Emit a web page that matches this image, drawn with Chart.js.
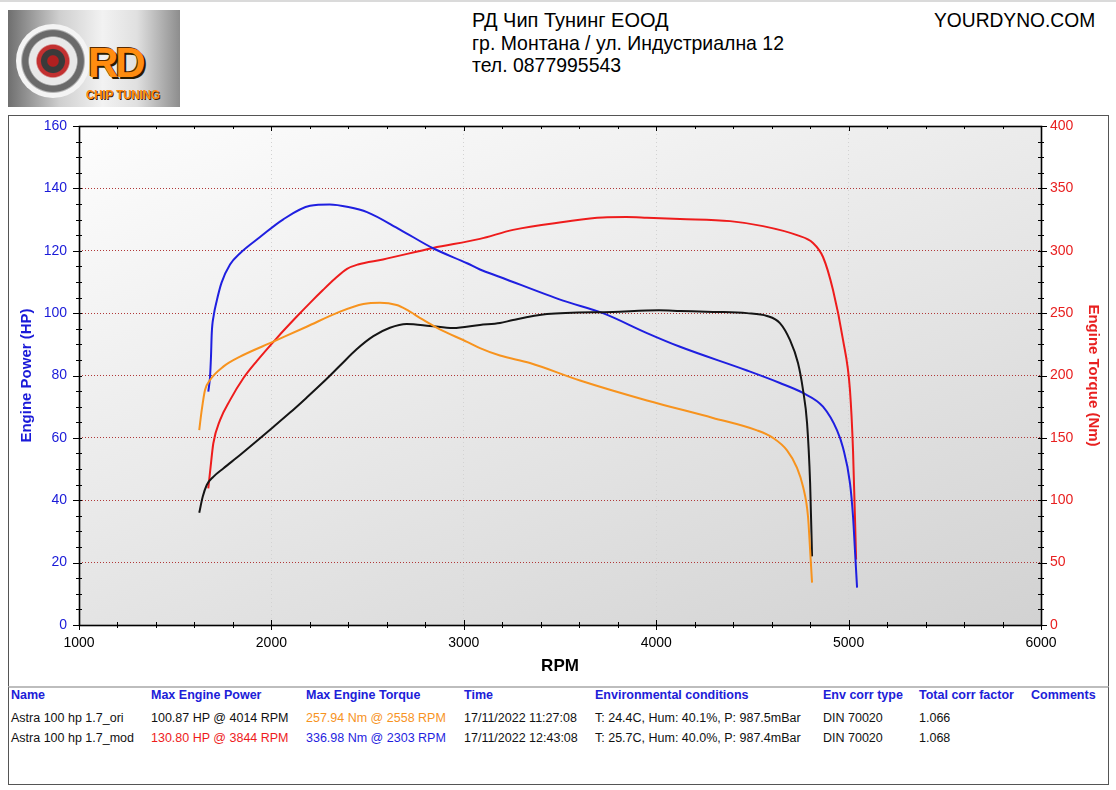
<!DOCTYPE html>
<html><head><meta charset="utf-8">
<script src="https://cdn.jsdelivr.net/npm/chart.js@4.4.1/dist/chart.umd.min.js"></script>
<style>
html,body{margin:0;padding:0;background:#fff;width:1116px;height:790px;overflow:hidden;font-family:"Liberation Sans",Arial,sans-serif;position:relative;}
#topline{position:absolute;left:0;top:0;width:1116px;height:2px;background:#dadada;}
.hdr{position:absolute;font-family:"Liberation Sans Narrow","Liberation Sans",Arial,sans-serif;font-size:21px;line-height:22px;color:#000;white-space:nowrap;transform-origin:0 50%;}
#logo{position:absolute;left:8px;top:10px;width:172px;height:97px;overflow:hidden;background:linear-gradient(90deg,#6f6f6f 0%,#cfcfcf 30%,#f2f2f2 55%,#e0e0e0 75%,#8d8d8d 100%);}
#turbo{position:absolute;left:8px;top:14px;width:74px;height:74px;border-radius:50%;background:radial-gradient(circle,#b02020 0 10%,#3a3a3a 12% 22%,#c23030 24% 30%,#e8e8e8 33% 45%,#6a6a6a 48% 58%,#f4f4f4 62% 80%,#5a5a5a 86% 100%);}
#rd{position:absolute;left:80px;top:32px;font:bold 42px "Liberation Sans",Arial,sans-serif;color:#ff8c10;letter-spacing:-3px;text-shadow:2px 2px 0 #2a1a00,-1px -1px 0 #5a2a00;line-height:42px;white-space:nowrap;}
#chip{position:absolute;left:78px;top:79px;font:bold 12px "Liberation Sans",Arial,sans-serif;color:#ff8c10;text-shadow:1px 1px 0 #3a2000;line-height:13px;white-space:nowrap;transform:scaleX(0.95);transform-origin:0 0;}
#frame{position:absolute;left:8px;top:115px;width:1099px;height:570px;border:1px solid #555;}
#frame canvas{position:absolute;left:0;top:0;}
#table{position:absolute;left:8px;top:686px;width:1099px;height:96px;border:1px solid #555;border-top:2px solid #bdbdbd;}
.cell{position:absolute;font-size:12.5px;line-height:14px;white-space:nowrap;color:#111;}
.th{font-weight:bold;color:#2020d8;}
</style></head>
<body>
<div id="topline"></div>
<div id="logo"><div id="turbo"></div><div id="rd">RD</div><div id="chip">CHIP TUNING</div></div>
<div class="hdr" id="h1" style="left:472px;top:9px">РД Чип Тунинг ЕООД</div>
<div class="hdr" id="h2" style="left:472px;top:32px">гр. Монтана / ул. Индустриална 12</div>
<div class="hdr" id="h3" style="left:472px;top:54px">тел. 0877995543</div>
<div class="hdr" id="h4" style="left:934px;top:9px">YOURDYNO.COM</div>
<div id="frame"><canvas id="c" width="1099" height="570"></canvas></div>
<div id="table"></div>
<script>
// ---- axis ticks ----
const rpmTicks = [1000, 2000, 3000, 4000, 5000, 6000];
const hpTicks = [0, 20, 40, 60, 80, 100, 120, 140, 160];
const nmTicks = [0, 50, 100, 150, 200, 250, 300, 350, 400];

// ---- Astra 100 hp 1.7_mod : Engine Torque (Nm) ----
const modTorqueRpm = [1672,1681,1686,1690,1700,1716,1741,1785,1837,1941,2060,2201,2303,2400,2497,2668,2840,3017,3084,3188,3516,3723,3952,4124,4472,4643,4763,4867,4940,4971,5007,5023,5033,5044];
const modTorqueNm  = [187,199,215,234,248,260,274.5,289,298,311,325,336,337,335,331,317,302,290,285,279,260,250,234,223,204,194,186,175,156,142,114,87,60,30];

// ---- Astra 100 hp 1.7_mod : Engine Power (HP) ----
const modPowerRpm = [1672,1684,1698,1733,1785,1854,1924,2028,2132,2201,2268,2330,2393,2450,2580,2840,3084,3256,3516,3723,3844,3952,4124,4384,4555,4732,4815,4867,4919,4971,5007,5023,5039];
const modPowerHp  = [43.8,50.7,58.2,65.7,72.1,79.1,84.6,92,98.9,103.3,107.4,111,114.2,115.6,117.2,120.9,123.8,126.7,129.2,130.7,130.8,130.6,130.2,129.5,127.9,125,122.5,118,107.4,91.4,75.4,56,21];

// ---- Astra 100 hp 1.7_ori : Engine Torque (Nm) ----
const oriTorqueRpm = [1625,1638,1655,1681,1750,1837,2010,2183,2357,2478,2564,2651,2700,2790,2876,3017,3084,3188,3344,3604,3952,4295,4524,4607,4680,4732,4763,4789,4800,4810];
const oriTorqueNm  = [156.3,172.4,188.4,196.4,207.1,215.1,227.1,239.1,251.2,257.3,258.4,256.5,253,244.5,237,227,222,216,210,196,180,166,156,150,140,126,111,87,60,34];

// ---- Astra 100 hp 1.7_ori : Engine Power (HP) ----
const oriPowerRpm = [1625,1643,1664,1698,1750,1837,1924,2010,2097,2183,2270,2357,2443,2530,2616,2703,2824,2944,3084,3188,3256,3432,3775,4014,4124,4295,4472,4576,4643,4695,4737,4763,4784,4800,4810];
const oriPowerHp  = [36,41.1,44.9,47.5,50.2,54.5,59,63.5,68.1,72.9,77.9,83.2,88.4,92.6,95.3,96.5,95.9,95.2,96.2,96.8,97.8,99.7,100.4,100.9,100.7,100.4,100,99.1,96.8,91.4,84,75.4,64.8,45.5,22];

// ---- results table ----
const tableHeaders = ['Name','Max Engine Power','Max Engine Torque','Time','Environmental conditions','Env corr type','Total corr factor','Comments'];
const runNames = ['Astra 100 hp 1.7_ori','Astra 100 hp 1.7_mod'];
const maxPower = ['100.87 HP @ 4014 RPM','130.80 HP @ 3844 RPM'];
const maxTorque = ['257.94 Nm @ 2558 RPM','336.98 Nm @ 2303 RPM'];
const runTimes = ['17/11/2022 11:27:08','17/11/2022 12:43:08'];
const envCond = ['T: 24.4C, Hum: 40.1%, P: 987.5mBar','T: 25.7C, Hum: 40.0%, P: 987.4mBar'];
const envCorr = ['DIN 70020','DIN 70020'];
const corrFactor = ['1.066','1.068'];
const comments = ['',''];

const BLUE = '#1f1fe0', RED = '#ee1c1c', ORANGE = '#f7931e', BLACK = '#151515';

// header text fitting
function fit(id, w){ const el=document.getElementById(id); const s=w/el.offsetWidth; el.style.transform='scaleX('+s+')'; }
fit('h1',197); fit('h2',312); fit('h3',149); fit('h4',161);

// table
(function(){
  const colX = [11,151,306,464,595,823,919,1031];
  const rowTop = [711,731];
  const body = document.body;
  function add(txt,x,y,cls,color){ const d=document.createElement('div'); d.className='cell '+(cls||''); d.style.left=x+'px'; d.style.top=y+'px'; if(color) d.style.color=color; d.textContent=txt; body.appendChild(d); }
  tableHeaders.forEach((t,i)=>add(t,colX[i],688,'th'));
  const powerColors=[ '#111', RED ], torqueColors=[ORANGE, BLUE];
  for(let r=0;r<2;r++){
    add(runNames[r],colX[0],rowTop[r]);
    add(maxPower[r],colX[1],rowTop[r],'',powerColors[r]);
    add(maxTorque[r],colX[2],rowTop[r],'',torqueColors[r]);
    add(runTimes[r],colX[3],rowTop[r]);
    add(envCond[r],colX[4],rowTop[r]);
    add(envCorr[r],colX[5],rowTop[r]);
    add(corrFactor[r],colX[6],rowTop[r]);
    add(comments[r],colX[7],rowTop[r]);
  }
})();

const pts = (xs, ys) => xs.map((x,i)=>({x:x, y:ys[i]}));

const dynoPlugin = {
  id:'dyno',
  beforeDraw(c){
    const {ctx, chartArea:a} = c;
    const g = ctx.createLinearGradient(a.left, a.top, a.left+277, a.top+751);
    g.addColorStop(0,'#fdfdfd');
    g.addColorStop(1,'#d2d2d2');
    ctx.save(); ctx.fillStyle=g; ctx.fillRect(a.left,a.top,a.right-a.left,a.bottom-a.top); ctx.restore();
  },
  afterDraw(c){
    const {ctx, chartArea:a, scales} = c;
    const x = scales.x, y = scales.y;
    ctx.save();
    ctx.strokeStyle='#000'; ctx.lineWidth=1;
    ctx.beginPath();
    for(let v=rpmTicks[0]; v<=rpmTicks[rpmTicks.length-1]; v+=200){
      const px = Math.round(x.getPixelForValue(v))+0.5;
      const major = rpmTicks.includes(v);
      ctx.moveTo(px, a.bottom-(major?5:3)); ctx.lineTo(px, a.bottom+(major?5:3));
      ctx.moveTo(px, a.top); ctx.lineTo(px, a.top+(major?5:3));
    }
    for(let v=hpTicks[0]; v<=hpTicks[hpTicks.length-1]; v+=5){
      const py = Math.round(y.getPixelForValue(v))+0.5;
      const major = hpTicks.includes(v);
      ctx.moveTo(a.left-(major?6:3), py); ctx.lineTo(a.left+3, py);
      ctx.moveTo(a.right-3, py); ctx.lineTo(a.right+(major?6:3), py);
    }
    ctx.stroke();
    ctx.lineWidth=1.6;
    ctx.strokeRect(Math.round(a.left)+0.5, Math.round(a.top)+0.5, Math.round(a.right-a.left), Math.round(a.bottom-a.top));
    ctx.restore();
  }
};

Chart.defaults.font.family = '"Liberation Sans", Arial, sans-serif';
const ds = (label, data, axis, color) => ({label, data, yAxisID:axis, borderColor:color, backgroundColor:color, borderWidth:2, pointRadius:0, cubicInterpolationMode:'monotone', fill:false});
const noPad = s => { s.paddingTop = 0; s.paddingBottom = 0; };

new Chart(document.getElementById('c'), {
  type:'line',
  data:{datasets:[
    ds('Astra 100 hp 1.7_ori Torque', pts(oriTorqueRpm, oriTorqueNm), 'y1', ORANGE),
    ds('Astra 100 hp 1.7_ori Power', pts(oriPowerRpm, oriPowerHp), 'y', BLACK),
    ds('Astra 100 hp 1.7_mod Torque', pts(modTorqueRpm, modTorqueNm), 'y1', BLUE),
    ds('Astra 100 hp 1.7_mod Power', pts(modPowerRpm, modPowerHp), 'y', RED)
  ]},
  options:{
    responsive:false, animation:false, devicePixelRatio:1,
    layout:{padding:{top:10,left:0,right:0,bottom:0}},
    plugins:{legend:{display:false}, tooltip:{enabled:false}},
    scales:{
      x:{type:'linear', min:1000, max:6000,
        afterBuildTicks(s){ s.ticks = rpmTicks.map(v=>({value:v})); },
        ticks:{color:'#000', font:{size:14}, padding:10, callback:v=>String(v), maxRotation:0, autoSkip:false},
        grid:{color:'#d2d2d2', drawTicks:false, lineWidth:1},
        border:{display:false, dash:[1,3]},
        title:{display:true, text:'RPM', color:'#000', font:{size:17, weight:'bold'}, padding:{top:0,bottom:9}},
        afterFit(s){ s.height = 61; }
      },
      y:{position:'left', min:0, max:160,
        afterBuildTicks(s){ s.ticks = hpTicks.map(v=>({value:v})); },
        ticks:{color:'#1a1ad8', font:{size:14}, padding:12, callback:v=>String(v), autoSkip:false},
        grid:{color:'#b03838', drawTicks:false, lineWidth:1},
        border:{display:false, dash:[1,2]},
        title:{display:true, text:'Engine Power (HP)', color:'#1a1ad8', font:{size:15, weight:'bold'}, padding:{top:9,bottom:0}},
        afterFit(s){ s.width = 70; noPad(s); }
      },
      y1:{position:'right', min:0, max:400,
        afterBuildTicks(s){ s.ticks = nmTicks.map(v=>({value:v})); },
        ticks:{color:'#e82020', font:{size:14}, padding:9, callback:v=>String(v), autoSkip:false},
        grid:{drawOnChartArea:false, drawTicks:false},
        border:{display:false},
        title:{display:true, text:'Engine Torque (Nm)', color:'#e82020', font:{size:15, weight:'bold'}, padding:{top:6,bottom:0}},
        afterFit(s){ s.width = 67; noPad(s); }
      }
    }
  },
  plugins:[dynoPlugin]
});
</script>
</body></html>
